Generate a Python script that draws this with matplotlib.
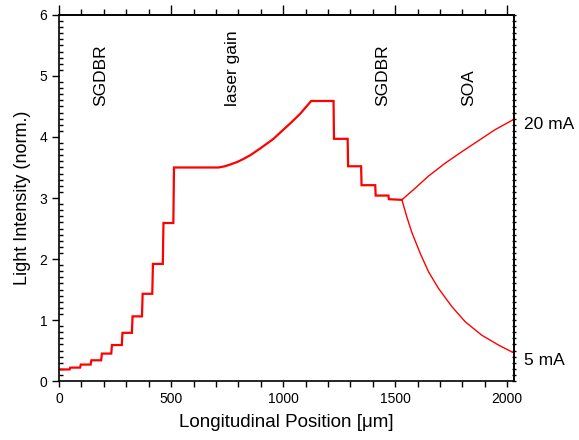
import numpy as np
from matplotlib import pyplot as plt
from matplotlib.ticker import MultipleLocator, NullLocator, NullFormatter

plt.rcParams['font.family'] = ['Liberation Sans', 'DejaVu Sans']

# laser section: SGDBR staircase, gain region, peak, back SGDBR staircase
step_x = [0, 47, 94, 141, 188, 233, 280, 325, 370, 416, 463, 510]
step_y = [0.19, 0.22, 0.27, 0.34, 0.45, 0.59, 0.79, 1.06, 1.43, 1.92, 2.59, 3.50]

gain_x = [680, 712, 740, 765, 795, 823, 853, 897, 927, 957, 1001, 1031, 1076, 1125]
gain_y = [3.50, 3.50, 3.52, 3.55, 3.59, 3.64, 3.70, 3.81, 3.89, 3.97, 4.12, 4.22, 4.38, 4.59]

back_x = [1225, 1288, 1348, 1411, 1470, 1530]
back_y = [3.97, 3.52, 3.21, 3.04, 2.98, 2.97]

# SOA section, two bias currents
soa20_x = [1530, 1589, 1649, 1723, 1798, 1872, 1946, 2030]
soa20_y = [2.97, 3.16, 3.36, 3.57, 3.76, 3.94, 4.12, 4.29]
soa5_x = [1530, 1552, 1574, 1612, 1649, 1693, 1753, 1813, 1887, 1961, 2030]
soa5_y = [2.97, 2.69, 2.44, 2.09, 1.79, 1.52, 1.22, 0.97, 0.75, 0.59, 0.46]

regions = ['SGDBR', 'laser gain', 'SGDBR', 'SOA']
region_x = [187, 772, 1446, 1826]

fig = plt.figure(figsize=(5.79, 4.40), dpi=100)
ax = fig.add_axes([0.102, 0.134, 0.786, 0.832])

# build the laser trace: staircase -> flat -> gain curve -> flat top -> staircase
lx, ly = [], []
for i in range(len(step_x)):
    x0 = step_x[i]
    x1 = step_x[i + 1] if i + 1 < len(step_x) else gain_x[0]
    lx.append(x0 + 3 if i > 0 else x0)
    ly.append(step_y[i])
    lx.append(x1)
    ly.append(step_y[i])
lx += gain_x[1:]
ly += gain_y[1:]
lx.append(back_x[0])
ly.append(gain_y[-1])
for i in range(len(back_x) - 1):
    lx.append(back_x[i] + 2)
    ly.append(back_y[i])
    lx.append(back_x[i + 1])
    ly.append(back_y[i])
ly[-1] = back_y[-1]

ax.plot(lx, ly, color='red', lw=1.6, solid_joinstyle='miter')
ax.plot(soa20_x, soa20_y, color='red', lw=1.0)
ax.plot(soa5_x, soa5_y, color='red', lw=1.0)

for name, xp in zip(regions, region_x):
    ax.text(xp, 4.5, name, rotation=90, ha='center', va='bottom', fontsize=12.5)

ax.text(2075, 4.2, '20 mA', ha='left', va='center', fontsize=12.5, clip_on=False)
ax.text(2075, 0.33, '5 mA', ha='left', va='center', fontsize=12.5, clip_on=False)

ax.set_xlim(0, 2031)
ax.set_ylim(0, 6)

for s in ax.spines.values():
    s.set_linewidth(1.2)

ax.xaxis.set_major_locator(MultipleLocator(500))
ax.xaxis.set_minor_locator(MultipleLocator(100))
ax.tick_params(axis='x', which='both', direction='out', length=4, width=1,
               labelsize=10, top=False, pad=4)
ax.yaxis.set_major_locator(MultipleLocator(1))
ax.yaxis.set_minor_locator(MultipleLocator(0.1))
ax.tick_params(axis='y', which='major', direction='out', length=5, width=1,
               labelsize=10, right=False)
ax.tick_params(axis='y', which='minor', direction='in', length=3, width=1, right=False)

top = ax.secondary_xaxis('top')
top.xaxis.set_major_locator(MultipleLocator(500))
top.xaxis.set_minor_locator(MultipleLocator(100))
top.xaxis.set_major_formatter(NullFormatter())
top.tick_params(which='major', direction='out', length=7, width=1)
top.tick_params(which='minor', direction='out', length=4, width=1)
top.spines['top'].set_linewidth(1.2)

right = ax.secondary_yaxis('right')
right.yaxis.set_major_locator(NullLocator())
right.yaxis.set_minor_locator(MultipleLocator(0.1))
right.tick_params(which='minor', direction='inout', length=3, width=1)
right.spines['right'].set_linewidth(1.2)

ax.set_xlabel('Longitudinal Position [\u03bcm]', fontsize=13.5, labelpad=6)
ax.set_ylabel('Light Intensity (norm.)', fontsize=13, labelpad=6)

fig.savefig('out.png', dpi=100)
